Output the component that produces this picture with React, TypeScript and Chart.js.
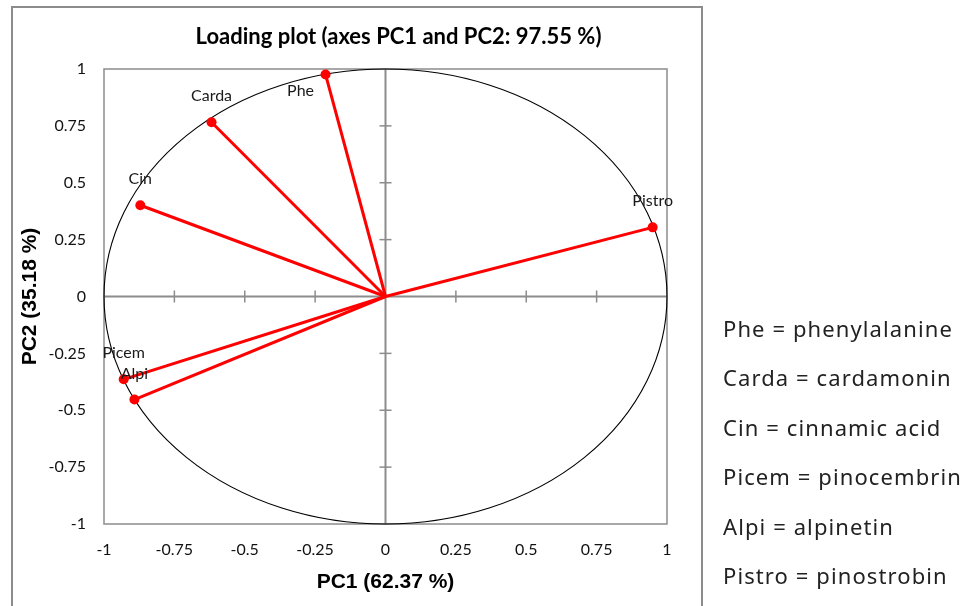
import React, { useEffect, useRef } from "react";
import { Chart, registerables } from "chart.js";

Chart.register(...registerables);

// Loadings of each variable on the first two principal components
const variables = ["Phe", "Carda", "Cin", "Pistro", "Picem", "Alpi"];
const pc1 = [-0.213, -0.618, -0.871, 0.949, -0.93, -0.892];
const pc2 = [0.976, 0.766, 0.401, 0.304, -0.364, -0.453];

const axisTicks = [-1, -0.75, -0.5, -0.25, 0, 0.25, 0.5, 0.75, 1];
const tickLabels = ["-1", "-0.75", "-0.5", "-0.25", "0", "0.25", "0.5", "0.75", "1"];

const titleText = "Loading plot (axes PC1 and PC2: 97.55 %)";
const xTitle = "PC1 (62.37 %)";
const yTitle = "PC2 (35.18 %)";

const legendEntries = [
  "Phe = phenylalanine",
  "Carda = cardamonin",
  "Cin = cinnamic acid",
  "Picem = pinocembrin",
  "Alpi = alpinetin",
  "Pistro = pinostrobin",
];

const RED = "#ff0000";
const FRAME = "#8c8c8c";
const TEXT_FONT = "Lato, 'Open Sans', sans-serif";

// Label offsets relative to each point (pixels); default sits above the point
const labelOffsets: Record<string, [number, number]> = { Phe: [-25, 16] };

const tickLabelFor = (v: number) => {
  const i = axisTicks.findIndex((t) => Math.abs(t - v) < 1e-9);
  return i >= 0 ? tickLabels[i] : "";
};

const decorPlugin = {
  id: "loadingDecor",
  beforeDatasetsDraw(chart: any) {
    const { ctx, chartArea: a, scales } = chart;
    const xs = scales.x;
    const ys = scales.y;
    const x0 = xs.getPixelForValue(0);
    const y0 = ys.getPixelForValue(0);
    const seg = (x1: number, y1: number, x2: number, y2: number) => {
      ctx.beginPath();
      ctx.moveTo(x1, y1);
      ctx.lineTo(x2, y2);
      ctx.stroke();
    };
    ctx.save();
    ctx.strokeStyle = FRAME;
    ctx.lineWidth = 1.5;
    ctx.strokeRect(a.left, a.top, a.right - a.left, a.bottom - a.top);
    ctx.lineWidth = 2;
    seg(a.left, y0, a.right, y0);
    seg(x0, a.top, x0, a.bottom);
    ctx.lineWidth = 1.5;
    axisTicks.forEach((v) => {
      if (v === 0 || Math.abs(v) === 1) return;
      const px = xs.getPixelForValue(v);
      seg(px, y0 - 6, px, y0 + 6);
      const py = ys.getPixelForValue(v);
      seg(x0 - 6, py, x0 + 6, py);
    });
    // correlation circle of radius 1
    ctx.strokeStyle = "#000";
    ctx.lineWidth = 1.1;
    ctx.beginPath();
    ctx.ellipse(
      x0,
      y0,
      xs.getPixelForValue(1) - x0,
      y0 - ys.getPixelForValue(1),
      0,
      0,
      Math.PI * 2
    );
    ctx.stroke();
    ctx.restore();
  },
  afterDatasetsDraw(chart: any) {
    const { ctx, scales } = chart;
    ctx.save();
    ctx.font = `16px ${TEXT_FONT}`;
    ctx.fillStyle = "#1a1a1a";
    ctx.textAlign = "center";
    ctx.textBaseline = "middle";
    variables.forEach((name, i) => {
      const px = scales.x.getPixelForValue(pc1[i]);
      const py = scales.y.getPixelForValue(pc2[i]);
      const [dx, dy] = labelOffsets[name] || [0, -26];
      ctx.fillText(name, px + dx, py + dy);
    });
    ctx.restore();
  },
  afterDraw(chart: any) {
    const { ctx, chartArea: a } = chart;
    ctx.save();
    ctx.font = `bold 22px ${TEXT_FONT}`;
    ctx.fillStyle = "#000";
    ctx.textAlign = "center";
    ctx.textBaseline = "middle";
    ctx.fillText(titleText, (a.left + a.right) / 2 + 13, a.top - 32);
    ctx.restore();
  },
};

export default function App() {
  const canvasRef = useRef<HTMLCanvasElement | null>(null);

  useEffect(() => {
    const canvas = canvasRef.current;
    if (!canvas) return;
    const datasets = variables.map((name, i) => ({
      label: name,
      data: [
        { x: 0, y: 0 },
        { x: pc1[i], y: pc2[i] },
      ],
      showLine: true,
      borderColor: RED,
      backgroundColor: RED,
      borderWidth: 3,
      pointRadius: [0, 5],
      pointHoverRadius: [0, 5],
      pointBorderWidth: 0,
    }));

    const chart = new Chart(canvas, {
      type: "scatter",
      data: { datasets },
      options: {
        responsive: false,
        animation: false,
        layout: { padding: { left: 10, top: 69, right: 309, bottom: 0 } },
        plugins: {
          legend: { display: false },
          title: { display: false },
          tooltip: { enabled: false },
        },
        scales: {
          x: {
            type: "linear",
            min: -1,
            max: 1,
            grid: { display: false },
            border: { display: false },
            afterBuildTicks: (scale: any) => {
              scale.ticks = axisTicks.map((v) => ({ value: v }));
            },
            afterFit: (scale: any) => {
              scale.height = 82;
            },
            ticks: {
              padding: 8,
              color: "#111",
              font: { family: TEXT_FONT, size: 16 },
              maxRotation: 0,
              callback: (v: any) => tickLabelFor(Number(v)),
            },
            title: {
              display: true,
              text: xTitle,
              color: "#000",
              font: { family: "'Liberation Sans', Arial, sans-serif", size: 21, weight: "bold" },
              padding: { top: 0, bottom: 11 },
            },
          },
          y: {
            type: "linear",
            min: -1,
            max: 1,
            grid: { display: false },
            border: { display: false },
            afterBuildTicks: (scale: any) => {
              scale.ticks = axisTicks.map((v) => ({ value: v }));
            },
            afterFit: (scale: any) => {
              scale.width = 94;
            },
            ticks: {
              padding: 10,
              color: "#111",
              font: { family: TEXT_FONT, size: 16 },
              callback: (v: any) => tickLabelFor(Number(v)),
            },
            title: {
              display: true,
              text: yTitle,
              color: "#000",
              font: { family: "'Liberation Sans', Arial, sans-serif", size: 21, weight: "bold" },
              padding: { top: 8, bottom: 0 },
            },
          },
        },
      },
      plugins: [decorPlugin],
    } as any);

    return () => chart.destroy();
  }, []);

  return (
    <div
      style={{
        position: "absolute",
        left: 0,
        top: 0,
        width: 976,
        height: 606,
        overflow: "hidden",
        background: "#fff",
      }}
    >
      <div
        style={{
          position: "absolute",
          left: 11,
          top: 6,
          width: 688,
          height: 700,
          border: `2px solid ${FRAME}`,
        }}
      />
      <canvas
        ref={canvasRef}
        width={976}
        height={606}
        style={{ position: "absolute", left: 0, top: 0, width: 976, height: 606 }}
      />
      <div
        style={{
          position: "absolute",
          left: 723,
          top: 304,
          fontFamily: "'Noto Sans', sans-serif",
          fontSize: 22,
          letterSpacing: "1.1px",
          lineHeight: "49.4px",
          color: "#222",
          whiteSpace: "nowrap",
        }}
      >
        {legendEntries.map((t) => (
          <div key={t}>{t}</div>
        ))}
      </div>
    </div>
  );
}
